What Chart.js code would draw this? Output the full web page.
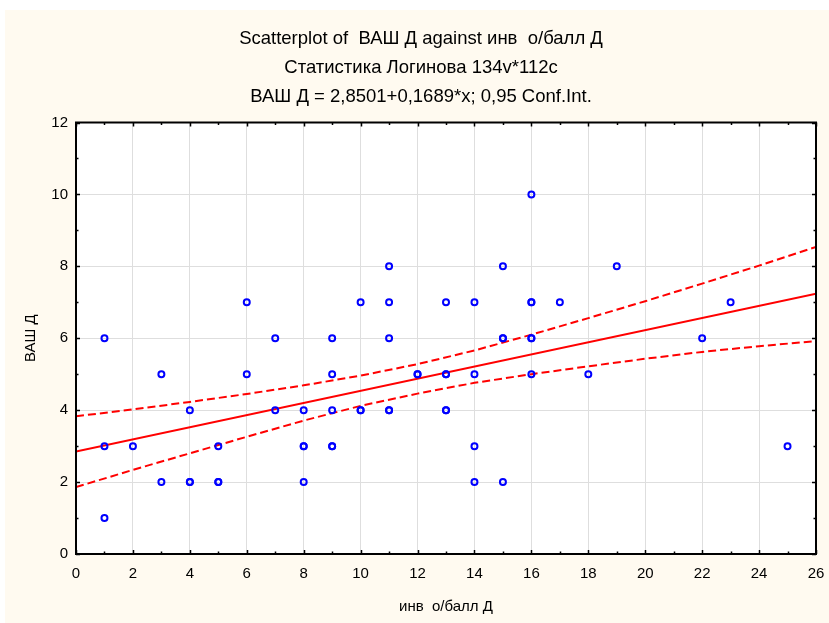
<!DOCTYPE html>
<html>
<head>
<meta charset="utf-8">
<script src="https://cdn.jsdelivr.net/npm/chart.js@4/dist/chart.umd.min.js"></script>
<style>
  html, body { margin: 0; padding: 0; background: #ffffff; }
  #wrap { position: absolute; left: 5px; top: 10px; width: 824px; height: 613px; background: #FFFAF0; }
</style>
</head>
<body>
<div id="wrap"><canvas id="myChart"></canvas></div>
<script>
// observations (инв о/балл Д, ВАШ Д)
const xVals = [1, 1, 1, 2, 3, 3, 4, 4, 4, 5, 5, 5, 6, 6, 7, 7, 8, 8, 8, 8,
  9, 9, 9, 9, 9, 10, 10, 10, 11, 11, 11, 11, 11, 12, 12, 13, 13, 13, 13, 13,
  14, 14, 14, 14, 15, 15, 15, 15, 16, 16, 16, 16, 16, 16, 17, 18, 19, 22, 23, 25];
const yVals = [6, 3, 1, 3, 5, 2, 4, 2, 2, 3, 2, 2, 7, 5, 6, 4, 4, 3, 3, 2,
  6, 5, 4, 3, 3, 7, 4, 4, 8, 7, 6, 4, 4, 5, 5, 7, 5, 5, 4, 4,
  7, 5, 3, 2, 8, 6, 6, 2, 10, 7, 7, 6, 6, 5, 7, 5, 8, 6, 7, 3];

// regression line ВАШ Д = 2,8501+0,1689*x (ends of the plotted range)
const fitX = [0, 26];
const fitY = [2.85, 7.24];

// 0,95 confidence band
const bandX = [0, 2, 4, 6, 8, 10, 12, 14, 16, 18, 20, 22, 24, 26];
const upperY = [3.83, 4.02, 4.23, 4.45, 4.69, 4.96, 5.28, 5.66, 6.10, 6.56, 7.03, 7.52, 8.02, 8.54];
const lowerY = [1.86, 2.34, 2.80, 3.26, 3.71, 4.12, 4.46, 4.76, 5.00, 5.22, 5.43, 5.62, 5.78, 5.92];

const titleLines = [
  'Scatterplot of  ВАШ Д against инв  о/балл Д',
  'Статистика Логинова 134v*112c',
  'ВАШ Д = 2,8501+0,1689*x; 0,95 Conf.Int.'
];

const toPts = (xs, ys) => xs.map((x, i) => ({ x: x, y: ys[i] }));

const FONT = "'Liberation Sans', Arial, sans-serif";

// frame + inside tick marks (major and minor) on all four sides
const frameTicks = {
  id: 'frameTicks',
  afterDraw(chart) {
    const { ctx, chartArea: a, scales } = chart;
    const xs = scales.x, ys = scales.y;
    ctx.save();
    ctx.strokeStyle = '#000';
    ctx.lineWidth = 1.5;
    for (let v = 0; v <= 26; v++) {
      const len = v % 2 === 0 ? 4 : 2.5;
      const px = Math.round(xs.getPixelForValue(v)) + 0.5;
      ctx.beginPath();
      ctx.moveTo(px, a.bottom); ctx.lineTo(px, a.bottom - len);
      ctx.moveTo(px, a.top); ctx.lineTo(px, a.top + len);
      ctx.stroke();
    }
    for (let v = 0; v <= 12; v++) {
      const len = v % 2 === 0 ? 4 : 2.5;
      const py = Math.round(ys.getPixelForValue(v)) + 0.5;
      ctx.beginPath();
      ctx.moveTo(a.left, py); ctx.lineTo(a.left + len, py);
      ctx.moveTo(a.right, py); ctx.lineTo(a.right - len, py);
      ctx.stroke();
    }
    ctx.lineWidth = 2;
    ctx.strokeRect(a.left, a.top, a.right - a.left, a.bottom - a.top);
    ctx.restore();
  }
};

const plotBg = {
  id: 'plotBg',
  beforeDraw(chart) {
    const { ctx, chartArea: a } = chart;
    ctx.save();
    ctx.fillStyle = '#ffffff';
    ctx.fillRect(a.left, a.top, a.right - a.left, a.bottom - a.top);
    ctx.restore();
  }
};

const ctx = document.getElementById('myChart').getContext('2d');

new Chart(ctx, {
  type: 'scatter',
  data: {
    datasets: [
      {
        label: 'ВАШ Д',
        data: toPts(xVals, yVals),
        pointRadius: 3,
        pointBorderWidth: 2,
        pointBorderColor: '#0000ff',
        pointBackgroundColor: 'rgba(0,0,0,0)',
        showLine: false
      },
      {
        label: 'fit',
        data: toPts(fitX, fitY),
        showLine: true,
        borderColor: '#ff0000',
        borderWidth: 2,
        pointRadius: 0
      },
      {
        label: 'upper',
        data: toPts(bandX, upperY),
        showLine: true,
        borderColor: '#ff0000',
        borderWidth: 2,
        borderDash: [8, 4],
        pointRadius: 0
      },
      {
        label: 'lower',
        data: toPts(bandX, lowerY),
        showLine: true,
        borderColor: '#ff0000',
        borderWidth: 2,
        borderDash: [8, 4],
        pointRadius: 0
      }
    ]
  },
  options: {
    responsive: true,
    maintainAspectRatio: false,
    animation: false,
    layout: { padding: { left: 8, right: 0, top: 0, bottom: 0 } },
    scales: {
      x: {
        type: 'linear',
        min: 0,
        max: 26,
        afterFit: (s) => { s.height = 69; s.paddingLeft = 0; s.paddingRight = 13; },
        grid: { color: '#dedede', lineWidth: 1, drawTicks: false },
        border: { display: false },
        ticks: { stepSize: 2, padding: 11, color: '#000', font: { family: FONT, size: 15 } },
        title: { display: true, text: 'инв  о/балл Д', color: '#000', padding: { top: 0, bottom: 7.5 }, font: { family: FONT, size: 15 } }
      },
      y: {
        min: 0,
        max: 12,
        afterFit: (s) => { s.width = 63; },
        grid: { color: '#dedede', lineWidth: 1, drawTicks: false },
        border: { display: false },
        ticks: { stepSize: 2, padding: 8, color: '#000', font: { family: FONT, size: 15 } },
        title: { display: true, text: 'ВАШ Д', color: '#000', padding: { bottom: 0, top: 9 }, font: { family: FONT, size: 15 } }
      }
    },
    plugins: {
      legend: { display: false },
      tooltip: { enabled: false },
      title: {
        display: true,
        text: titleLines,
        color: '#000',
        font: { family: FONT, size: 18.5, weight: 'normal', lineHeight: 1.5676 },
        padding: { top: 14.5, bottom: 11 }
      }
    }
  },
  plugins: [plotBg, frameTicks]
});
</script>
</body>
</html>
